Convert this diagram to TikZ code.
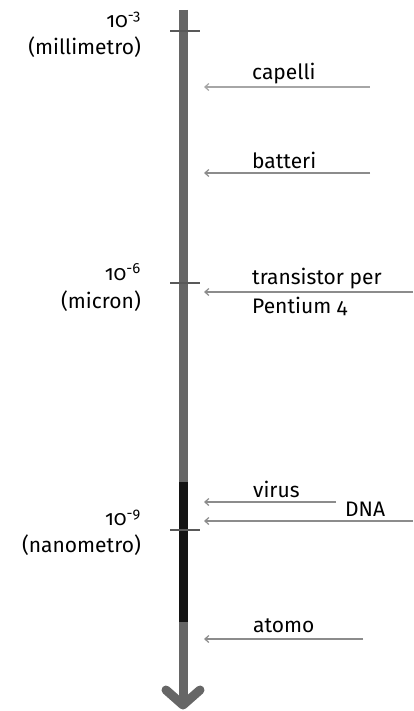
\documentclass[tikz,border=0pt]{standalone}
\usepackage{fontspec}
\setmainfont{Fira Sans}[Numbers=OldStyle]
\usetikzlibrary{arrows.meta}
\begin{document}
\begin{tikzpicture}[x=1pt,y=-1pt,
  axis/.style={draw=black!60,line width=9pt},
  tick/.style={draw=black!65,line width=1.5pt},
  ptr/.style={draw=black!45,line width=1.8pt,-{Straight Barb[length=4pt,width=7pt,line width=1.2pt]}},
  lbl/.style={font=\fontsize{21}{24}\selectfont,inner sep=0pt},
  scl/.style={font=\fontsize{21}{24}\selectfont,inner sep=0pt,anchor=east}]
\useasboundingbox (0,0) rectangle (413,711);
% axis
\coordinate (top) at (183,10);
\coordinate (bot) at (183,704);
\draw[axis] (top) -- (bot);
\draw[draw=black!92,line width=9pt] (183,482) -- (183,622);
\draw[axis,line cap=round,line join=round] (166,690) -- (183,705) -- (200,690);
% ticks
\draw[tick] (170,31) -- (200,31);
\draw[tick] (170,283) -- (200,283);
\draw[tick] (170,530) -- (200,530);
% scale labels
\node[scl] (e3) at (141,20) {10\textsuperscript{-3}};
\node[scl] (mm) at (141,47) {(millimetro)};
\node[scl] (e6) at (141,272) {10\textsuperscript{-6}};
\node[scl] (mu) at (141,301) {(micron)};
\node[scl] (e9) at (141,518) {10\textsuperscript{-9}};
\node[scl] (nm) at (141,545) {(nanometro)};
% pointers
\coordinate (c1) at (370,87);  \coordinate (c1e) at (204,87);
\coordinate (b1) at (370,173); \coordinate (b1e) at (204,173);
\coordinate (t1) at (413,292); \coordinate (t1e) at (204,292);
\coordinate (v1) at (336,502); \coordinate (v1e) at (204,502);
\coordinate (d1) at (413,521); \coordinate (d1e) at (204,521);
\coordinate (a1) at (363,639); \coordinate (a1e) at (204,639);
\draw[ptr,draw=black!35] (c1) -- (c1e);
\draw[ptr] (b1) -- (b1e);
\draw[ptr] (t1) -- (t1e);
\draw[ptr] (v1) -- (v1e);
\draw[ptr] (d1) -- (d1e);
\draw[ptr] (a1) -- (a1e);
\node[lbl,anchor=west] (cap) at (252,74) {capelli};
\node[lbl,anchor=west] (bat) at (252,160) {batteri};
\node[lbl,anchor=west] (tr) at (252,279) {transistor per};
\node[lbl,anchor=west] (pe) at (252,306) {Pentium 4};
\node[lbl,anchor=west] (vir) at (253,489) {virus};
\node[lbl,anchor=west] (dna) at (345,509) {DNA};
\node[lbl,anchor=west] (ato) at (253,626) {atomo};
\end{tikzpicture}
\end{document}
